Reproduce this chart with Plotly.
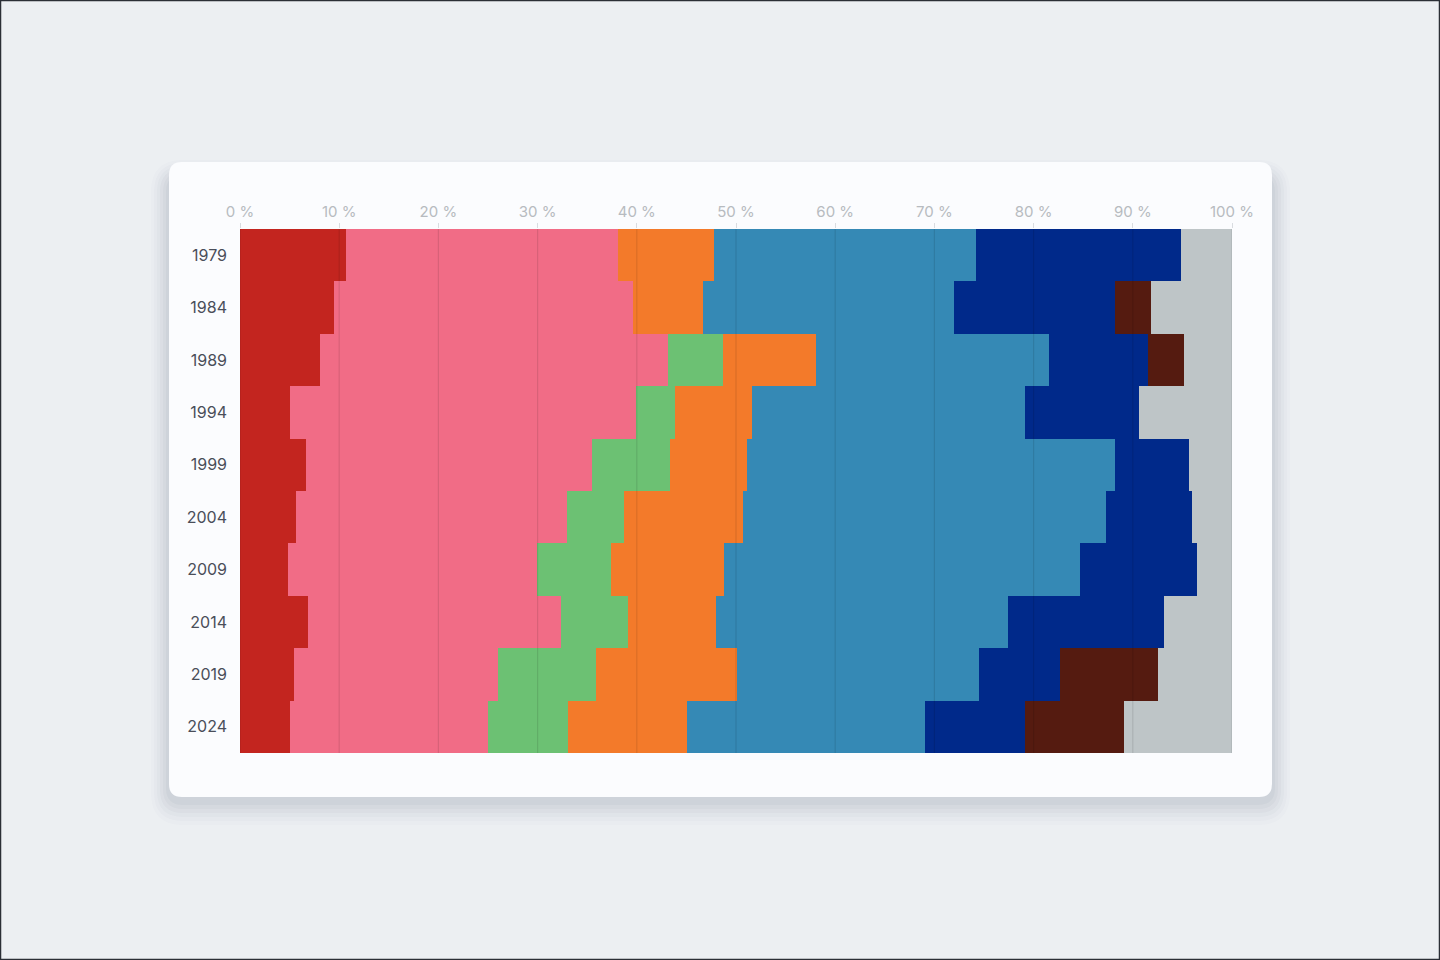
import plotly.graph_objects as go

# Sitzanteile je Wahljahr, in Prozent
jahre = ["1979", "1984", "1989", "1994", "1999", "2004", "2009", "2014", "2019", "2024"]

linke = [10.7, 9.5, 8.1, 5.0, 6.7, 5.6, 4.8, 6.9, 5.4, 5.0]
sozialdemokraten = [27.4, 30.1, 35.0, 34.9, 28.8, 27.4, 25.1, 25.5, 20.6, 20.0]
gruene = [None, None, 5.6, 4.0, 7.8, 5.7, 7.5, 6.7, 9.9, 8.1]
liberale = [9.7, 7.1, 9.4, 7.7, 7.8, 12.0, 11.4, 8.9, 14.2, 12.0]
christdemokraten = [26.4, 25.3, 23.5, 27.5, 37.1, 36.6, 35.9, 29.4, 24.4, 24.0]
konservative = [20.7, 16.2, 9.9, 11.5, 7.5, 8.7, 11.8, 15.7, 8.2, 10.0]
rechte = [None, 3.6, 3.7, None, None, None, None, None, 9.8, 10.0]
sonstige = [5.1, 8.3, 4.8, 9.4, 4.3, 4.0, 3.6, 6.9, 7.6, 10.9]

tick_werte = [0, 10, 20, 30, 40, 50, 60, 70, 80, 90, 100]
tick_texte = ["0 %", "10 %", "20 %", "30 %", "40 %", "50 %", "60 %", "70 %", "80 %", "90 %", "100 %"]

serien = [
    ("Linke", linke, "#C3251F"),
    ("Sozialdemokraten", sozialdemokraten, "#F16C86"),
    ("Grüne", gruene, "#6CC173"),
    ("Liberale", liberale, "#F37A2A"),
    ("Christdemokraten", christdemokraten, "#3589B5"),
    ("Konservative", konservative, "#00298A"),
    ("Rechte", rechte, "#551B10"),
    ("Sonstige", sonstige, "#BEC5C7"),
]

# Plotbereich in Pixeln (1440 x 960)
L, R, T, B = 240, 1232, 229, 753


def px_x(px):
    return (px - L) / (R - L)


def px_y(py):
    return (B - py) / (B - T)


def rund_rechteck(x0, y0, x1, y1, r):
    pts = [
        ("M", [(x0 + r, y0)]), ("L", [(x1 - r, y0)]), ("Q", [(x1, y0), (x1, y0 + r)]),
        ("L", [(x1, y1 - r)]), ("Q", [(x1, y1), (x1 - r, y1)]),
        ("L", [(x0 + r, y1)]), ("Q", [(x0, y1), (x0, y1 - r)]),
        ("L", [(x0, y0 + r)]), ("Q", [(x0, y0), (x0 + r, y0)]),
    ]
    s = ""
    for cmd, ps in pts:
        s += cmd + " " + " ".join(f"{px_x(a):.5f},{px_y(b):.5f}" for a, b in ps) + " "
    return s + "Z"


fig = go.Figure()
for name, werte, farbe in serien:
    fig.add_trace(go.Bar(
        y=jahre, x=werte, name=name, orientation="h",
        marker=dict(color=farbe, line=dict(width=0)),
        hoverinfo="skip",
    ))

shapes = []
# Schatten der Karte
for i, a in enumerate([0.015, 0.02, 0.025, 0.03, 0.035, 0.04]):
    g = 18 - i * 3
    shapes.append(dict(
        type="path", xref="paper", yref="paper", layer="below",
        path=rund_rechteck(169 - g, 162 - g + 16, 1272 + g, 797 + g + 10 - i, 14 + g),
        fillcolor=f"rgba(60,75,100,{a})", line=dict(width=0),
    ))
# Karte
shapes.append(dict(
    type="path", xref="paper", yref="paper", layer="below",
    path=rund_rechteck(169, 162, 1272, 797, 13),
    fillcolor="#FBFCFE", line=dict(width=0),
))
# Gitterlinien über den Balken
for v in tick_werte:
    shapes.append(dict(
        type="line", xref="x", yref="paper", layer="above",
        x0=v, x1=v, y0=0, y1=1,
        line=dict(color="rgba(0,0,0,0.1)", width=1.2),
    ))
# Rahmen des Bildes
shapes.append(dict(
    type="rect", xref="paper", yref="paper", layer="above",
    x0=px_x(0.5), x1=px_x(1439.5), y0=px_y(959.5), y1=px_y(0.5),
    line=dict(color="#2B2F36", width=1.5), fillcolor="rgba(0,0,0,0)",
))

fig.update_layout(
    width=1440, height=960,
    barmode="stack", bargap=0,
    showlegend=False,
    paper_bgcolor="#ECEFF2",
    plot_bgcolor="rgba(0,0,0,0)",
    margin=dict(l=L, r=1440 - R, t=T, b=960 - B, autoexpand=False),
    font=dict(family="Inter, Roboto, sans-serif"),
    shapes=shapes,
)
fig.update_xaxes(
    side="top", range=[0, 100], tickvals=tick_werte, ticktext=tick_texte,
    showgrid=False, zeroline=False, showline=False,
    ticks="outside", ticklen=5, tickcolor="#D9DCE0", tickwidth=1,
    tickfont=dict(size=15, color="#B7BBC0"),
)
fig.update_yaxes(
    type="category", autorange="reversed",
    showgrid=False, zeroline=False, showline=False, ticks="",
    ticklabelstandoff=12,
    tickfont=dict(size=16, color="#4A4E59"),
)

fig.write_html(
    "out.html",
    config={"displayModeBar": False},
    post_script="document.body.style.margin='0';document.body.style.overflow='hidden';",
)
